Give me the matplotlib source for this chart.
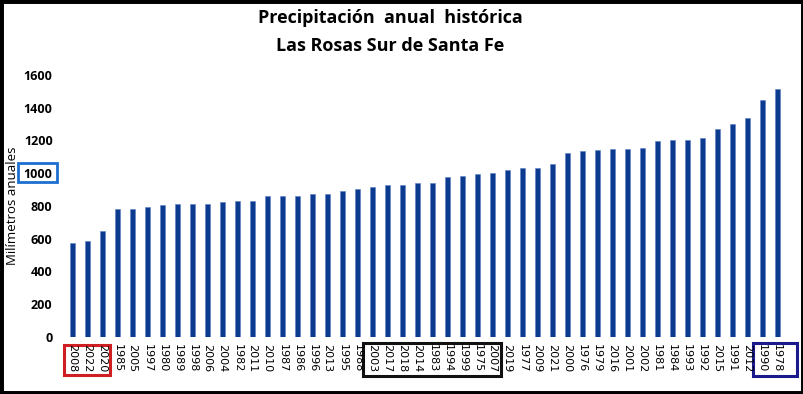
import matplotlib
matplotlib.use('Agg')
import matplotlib.pyplot as plt
from matplotlib.patches import Rectangle
import matplotlib.transforms as mtransforms

# Años ordenados de menor a mayor precipitación
anios = ['2008', '2022', '2020', '1985', '2005', '1997', '1980', '1989', '1998', '2006',
         '2004', '1982', '2011', '2010', '1987', '1986', '1996', '2013', '1995', '1988',
         '2003', '2017', '2018', '2014', '1983', '1994', '1999', '1975', '2007', '2019',
         '1977', '2009', '2021', '2000', '1976', '1979', '2016', '2001', '2002', '1981',
         '1984', '1993', '1992', '2015', '1991', '2012', '1990', '1978']
mm = [577, 584, 647, 779, 779, 791, 805, 811, 815, 815,
      823, 830, 830, 858, 858, 864, 876, 876, 889, 901,
      913, 927, 927, 941, 941, 978, 986, 994, 1004, 1019,
      1031, 1031, 1058, 1124, 1133, 1139, 1145, 1151, 1157, 1196,
      1202, 1202, 1214, 1273, 1299, 1338, 1450, 1515]
yticks = [0, 200, 400, 600, 800, 1000, 1200, 1400, 1600]

fig = plt.figure(figsize=(8.04, 3.94), dpi=100)
ax = fig.add_axes([0.081, 0.1447, 0.895, 0.665])

x = list(range(len(anios)))
ax.bar(x, mm, width=0.36, color='#0b3a8e', edgecolor='#5b7fc4', linewidth=0.4)

ax.set_xlim(-0.5, len(anios) - 0.5)
ax.set_ylim(0, 1600)
ax.set_yticks(yticks)
ax.set_yticklabels([str(v) for v in yticks], fontsize=9, fontweight='bold', family='Open Sans')
ax.set_xticks(x)
ax.set_xticklabels(anios, rotation=-90, fontsize=8, family='DejaVu Sans')
ax.tick_params(axis='both', length=0)
ax.tick_params(axis='y', pad=9)
ax.tick_params(axis='x', pad=5)
for s in ax.spines.values():
    s.set_visible(False)

fig.text(0.016, 0.477, 'Milímetros anuales', rotation=90, ha='center', va='center',
         fontsize=9.5, family='Open Sans')

fig.text(0.485, 0.955, 'Precipitación  anual  histórica', ha='center', va='center',
         fontsize=13, fontweight='bold', family='Open Sans')
fig.text(0.485, 0.882, 'Las Rosas Sur de Santa Fe', ha='center', va='center',
         fontsize=13, fontweight='bold', family='Open Sans')

# Recuadros resaltando años
trans = mtransforms.blended_transform_factory(ax.transData, fig.transFigure)
for x0, x1, y0, y1, col in [(-0.55, 2.5, 0.048, 0.124, '#d01f22'),
                            (19.4, 28.6, 0.046, 0.129, '#111111'),
                            (45.4, 48.3, 0.046, 0.129, '#1a1a8c')]:
    ax.add_patch(Rectangle((x0, y0), x1 - x0, y1 - y0, transform=trans, fill=False,
                           edgecolor=col, linewidth=2.2, clip_on=False))

# Recuadro en 1000
fig.add_artist(Rectangle((0.0224, 0.538), 0.0485, 0.048, transform=fig.transFigure,
                         fill=False, edgecolor='#1c6fd1', linewidth=2))

# Marco negro
fig.add_artist(Rectangle((0, 0), 1, 1, transform=fig.transFigure, fill=False,
                         edgecolor='black', linewidth=5))

fig.savefig('out.png', dpi=100)
